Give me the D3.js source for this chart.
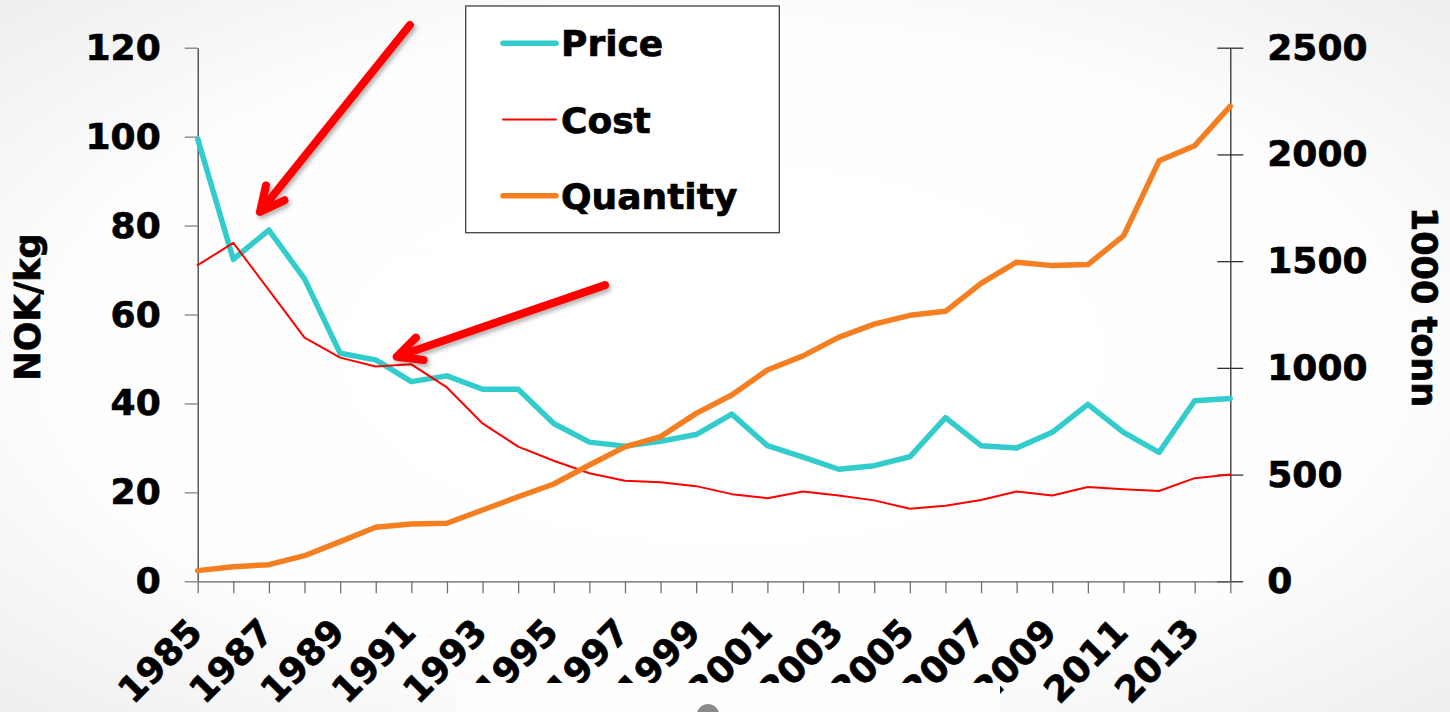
<!DOCTYPE html>
<html>
<head>
<meta charset="utf-8">
<script src="https://cdn.jsdelivr.net/npm/d3@7"></script>
<style>
    html, body { margin: 0; padding: 0; overflow: hidden; }
    body { width: 1450px; height: 712px; }
    text { font-family: 'DejaVu Sans', Verdana, sans-serif; font-weight: bold; fill: #000;
        stroke: #000; stroke-width: 0.7px; }
</style>
</head>
<body>
<script>
'use strict';

(function () {

    // chart data
    const years = [1985, 1986, 1987, 1988, 1989, 1990, 1991, 1992, 1993, 1994,
        1995, 1996, 1997, 1998, 1999, 2000, 2001, 2002, 2003, 2004,
        2005, 2006, 2007, 2008, 2009, 2010, 2011, 2012, 2013, 2014];

    // NOK/kg (left axis)
    const price = [99.5, 72.4, 79.0, 68.0, 51.3, 49.8, 44.9, 46.2, 43.2, 43.2,
        35.5, 31.3, 30.4, 31.5, 33.0, 37.6, 30.5, 27.9, 25.2, 26.0,
        28.0, 36.8, 30.5, 30.0, 33.5, 39.8, 33.5, 29.0, 40.6, 41.1];

    const cost = [71.1, 76.1, 65.5, 54.8, 50.3, 48.3, 48.8, 43.6, 35.5, 30.3,
        27.1, 24.3, 22.6, 22.3, 21.4, 19.6, 18.7, 20.2, 19.3, 18.2,
        16.3, 17.0, 18.3, 20.2, 19.3, 21.2, 20.7, 20.3, 23.2, 24.0];

    // 1000 tonn (right axis)
    const quantity = [50, 68, 78, 120, 186, 253, 268, 272, 334, 396,
        456, 545, 630, 678, 787, 873, 990, 1056, 1143, 1205,
        1246, 1265, 1396, 1495, 1479, 1484, 1618, 1970, 2041, 2226];

    const leftTicks = [0, 20, 40, 60, 80, 100, 120];
    const rightTicks = [0, 500, 1000, 1500, 2000, 2500];
    const yearLabels = [1985, 1987, 1989, 1991, 1993, 1995, 1997, 1999,
        2001, 2003, 2005, 2007, 2009, 2011, 2013];

    const seriesNames = ['Price', 'Cost', 'Quantity'];

    // annotation arrows, [year, NOK/kg] for tail and tip
    const arrowTails = [[1990.96, 125.1], [1996.44, 66.6]];
    const arrowTips = [[1986.75, 83.1], [1990.59, 50.5]];

    const colors = { Price: '#33CCCC', Cost: '#FF0000', Quantity: '#F57F20' };
    const widths = { Price: 5.5, Cost: 2, Quantity: 5.5 };

    let svgContainer = '';

    window.onload = function () {
        svgContainer = d3.select('body')
            .append('svg')
            .attr('width', 1450)
            .attr('height', 712);

        makeBackground();
        let map = drawAxes();
        plotData(map);
        drawArrows(map);
        makeLegend();
        makeLabels();
        coverBottom();
    }

    // light radial shading of the slide
    function makeBackground() {
        let defs = svgContainer.append('defs');
        let grad = defs.append('radialGradient')
            .attr('id', 'bg')
            .attr('cx', '50%').attr('cy', '50%').attr('r', '75%');
        grad.append('stop').attr('offset', '0').attr('stop-color', '#ffffff');
        grad.append('stop').attr('offset', '0.6').attr('stop-color', '#fefefe');
        grad.append('stop').attr('offset', '1').attr('stop-color', '#ebebeb');

        let shadow = defs.append('filter')
            .attr('id', 'shadow')
            .attr('x', '-20%').attr('y', '-20%')
            .attr('width', '140%').attr('height', '140%');
        shadow.append('feDropShadow')
            .attr('dx', 2).attr('dy', 3)
            .attr('stdDeviation', 2)
            .attr('flood-color', '#000')
            .attr('flood-opacity', 0.3);

        svgContainer.append('rect')
            .attr('width', 1450)
            .attr('height', 712)
            .attr('fill', 'url(#bg)');
    }

    // draw the three axes, return the scales
    function drawAxes() {
        let xScale = d3.scaleLinear()
            .domain([1985, 2014])
            .range([197.7, 1230.3]);

        let yLeft = d3.scaleLinear()
            .domain([0, 120])
            .range([581.3, 47.7]);

        let yRight = d3.scaleLinear()
            .domain([0, 2500])
            .range([581.3, 47.7]);

        // left axis
        let leftAxis = d3.axisLeft(yLeft)
            .tickValues(leftTicks)
            .tickSizeInner(13)
            .tickSizeOuter(0)
            .tickPadding(24)
            .tickFormat(d3.format('d'));
        let gl = svgContainer.append('g')
            .attr('transform', 'translate(197.7, 0)')
            .call(leftAxis);
        gl.select('.domain').attr('stroke', '#404040').attr('stroke-width', 1.3);
        gl.selectAll('.tick line').attr('stroke', '#808080').attr('stroke-width', 1.3);
        gl.selectAll('text').style('font-size', '36px').attr('fill', '#000');

        // right axis, ticks cross the line
        let rightAxis = d3.axisRight(yRight)
            .tickValues(rightTicks)
            .tickSizeInner(13)
            .tickSizeOuter(0)
            .tickPadding(24)
            .tickFormat(d3.format('d'));
        let gr = svgContainer.append('g')
            .attr('transform', 'translate(1230.3, 0)')
            .call(rightAxis);
        gr.select('.domain').attr('stroke', '#303030').attr('stroke-width', 1.3);
        gr.selectAll('.tick line')
            .attr('x1', -13)
            .attr('stroke', '#303030').attr('stroke-width', 1.3);
        gr.selectAll('text').style('font-size', '36px').attr('fill', '#000');

        // bottom axis, a tick every year, label every second year
        let xAxis = d3.axisBottom(xScale)
            .tickValues(years)
            .tickSizeInner(12)
            .tickSizeOuter(0)
            .tickFormat((d) => yearLabels.includes(d) ? String(d) : '');
        let gx = svgContainer.append('g')
            .attr('transform', 'translate(0, 581.3)')
            .call(xAxis);
        gx.select('.domain').attr('stroke', '#606060').attr('stroke-width', 1.3);
        gx.selectAll('.tick line').attr('stroke', '#707070').attr('stroke-width', 1.3);
        gx.selectAll('text')
            .attr('x', null)
            .attr('y', null)
            .attr('dy', null)
            .attr('text-anchor', 'end')
            .attr('transform', 'translate(6, 53) rotate(-45)')
            .style('font-size', '36px')
            .attr('fill', '#000');

        return { x: xScale, yLeft: yLeft, yRight: yRight };
    }

    // draw the lines, secondary series on top
    function plotData(map) {
        let series = [
            { name: 'Price', values: price, y: map.yLeft },
            { name: 'Cost', values: cost, y: map.yLeft },
            { name: 'Quantity', values: quantity, y: map.yRight }
        ];

        series.forEach((s) => {
            let line = d3.line()
                .x((d, i) => map.x(years[i]))
                .y((d) => s.y(d));

            svgContainer.append('path')
                .datum(s.values)
                .attr('fill', 'none')
                .attr('stroke', colors[s.name])
                .attr('stroke-width', widths[s.name])
                .attr('stroke-linejoin', 'round')
                .attr('stroke-linecap', 'round')
                .attr('d', line);
        });
    }

    // red pointer arrows with a soft shadow
    function drawArrows(map) {
        let headLen = 27;
        let half = 26 * Math.PI / 180;

        arrowTips.forEach((tipData, i) => {
            let tip = [map.x(tipData[0]), map.yLeft(tipData[1])];
            let tail = [map.x(arrowTails[i][0]), map.yLeft(arrowTails[i][1])];
            let ang = Math.atan2(tail[1] - tip[1], tail[0] - tip[0]);
            let w1 = [tip[0] + headLen * Math.cos(ang - half), tip[1] + headLen * Math.sin(ang - half)];
            let w2 = [tip[0] + headLen * Math.cos(ang + half), tip[1] + headLen * Math.sin(ang + half)];

            let p = d3.path();
            p.moveTo(tail[0], tail[1]);
            p.lineTo(tip[0], tip[1]);
            p.moveTo(w1[0], w1[1]);
            p.lineTo(tip[0], tip[1]);
            p.lineTo(w2[0], w2[1]);

            svgContainer.append('path')
                .attr('d', p.toString())
                .attr('fill', 'none')
                .attr('stroke', '#FF0000')
                .attr('stroke-width', 8)
                .attr('stroke-linecap', 'round')
                .attr('stroke-linejoin', 'round')
                .attr('filter', 'url(#shadow)');
        });
    }

    function makeLegend() {
        let g = svgContainer.append('g');

        g.append('rect')
            .attr('x', 465.7)
            .attr('y', 6)
            .attr('width', 313.6)
            .attr('height', 226.7)
            .attr('fill', '#fff')
            .attr('stroke', '#404040')
            .attr('stroke-width', 1.3);

        let rowY = d3.scalePoint()
            .domain(seriesNames)
            .range([43.3, 195.7]);

        seriesNames.forEach((name) => {
            g.append('line')
                .attr('x1', 503)
                .attr('x2', 556)
                .attr('y1', rowY(name))
                .attr('y2', rowY(name))
                .attr('stroke', colors[name])
                .attr('stroke-width', widths[name])
                .attr('stroke-linecap', 'round');

            g.append('text')
                .attr('x', 561)
                .attr('y', rowY(name) + 13)
                .style('font-size', '36px')
                .text(name);
        });
    }

    // axis titles
    function makeLabels() {
        svgContainer.append('text')
            .attr('transform', 'translate(40, 307) rotate(-90)')
            .attr('text-anchor', 'middle')
            .style('font-size', '35px')
            .text('NOK/kg');

        svgContainer.append('text')
            .attr('transform', 'translate(1412, 307) rotate(90)')
            .attr('text-anchor', 'middle')
            .style('font-size', '35px')
            .text('1000 tonn');
    }

    // slide picture that hides the bottom of some year labels
    function coverBottom() {
        svgContainer.append('rect')
            .attr('x', 455)
            .attr('y', 683)
            .attr('width', 545)
            .attr('height', 29)
            .attr('fill', '#fdfdfd');

        svgContainer.append('ellipse')
            .attr('cx', 708)
            .attr('cy', 718)
            .attr('rx', 12)
            .attr('ry', 14)
            .attr('fill', '#8a8a8a');
    }

})();
</script>
</body>
</html>
